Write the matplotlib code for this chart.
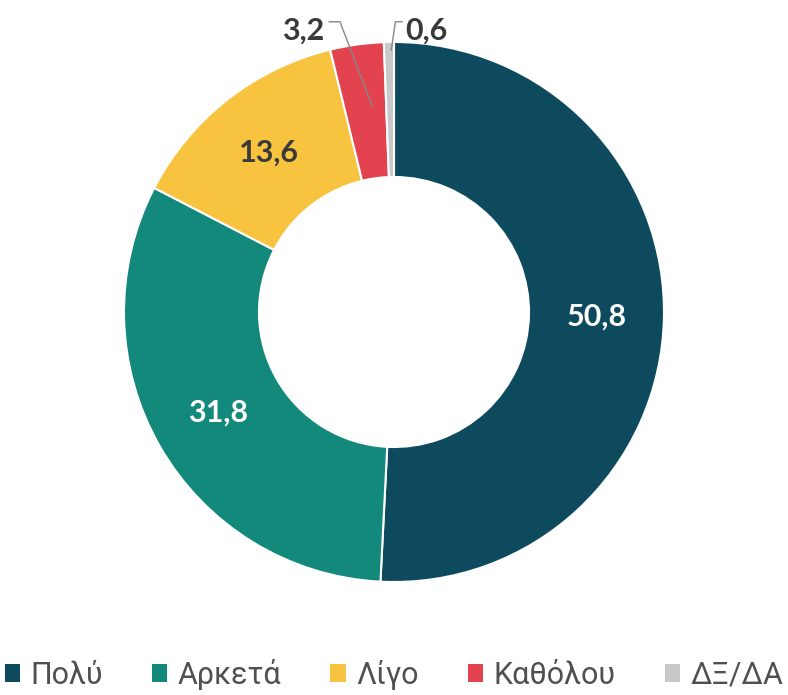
import matplotlib
matplotlib.use('Agg')
import numpy as np
from matplotlib import pyplot as plt
from matplotlib.patches import Patch

categories = ['Πολύ', 'Αρκετά', 'Λίγο', 'Καθόλου', 'ΔΞ/ΔΑ']
values = [50.8, 31.8, 13.6, 3.2, 0.6]
value_labels = ['50,8', '31,8', '13,6', '3,2', '0,6']
colors = ['#0e4a5e', '#12897a', '#f8c440', '#e2434f', '#c9c9cb']

fig = plt.figure(figsize=(7.88, 6.95), dpi=100)
ax = fig.add_axes([(394 - 270) / 788, (383 - 270) / 695, 540 / 788, 540 / 695])

wedges, _ = ax.pie(values, colors=colors, startangle=90, counterclock=False,
                   radius=1.0, wedgeprops=dict(width=0.5, edgecolor='white', linewidth=1.5))
ax.set_xlim(-1, 1)
ax.set_ylim(-1, 1)
ax.set_aspect('equal')
ax.axis('off')

# labels inside the big slices
label_font = ['Lato', 'DejaVu Sans']
inner = [(0, 'white'), (1, 'white'), (2, '#3a3a3a')]
for i, col in inner:
    w = wedges[i]
    ang = np.deg2rad((w.theta1 + w.theta2) / 2)
    ax.text(0.75 * np.cos(ang), 0.75 * np.sin(ang), value_labels[i], ha='center', va='center',
            fontsize=22, color=col, family=label_font, fontweight='bold')

# small slices with leader lines
ax.plot([-0.24, -0.2, -0.08], [1.075, 1.075, 0.76], color='#888888', lw=1, clip_on=False)
ax.text(-0.26, 1.044, value_labels[3], ha='right', va='center', fontsize=22,
        color='#3a3a3a', family=label_font, fontweight='bold')
ax.plot([0.03, 0.005, -0.01], [1.075, 1.075, 0.97], color='#888888', lw=1, clip_on=False)
ax.text(0.04, 1.044, value_labels[4], ha='left', va='center', fontsize=22,
        color='#3a3a3a', family=label_font, fontweight='bold')

handles = [Patch(facecolor=c, edgecolor='none') for c in colors]
fig.legend(handles, categories, loc='center', bbox_to_anchor=(0.5, 0.03), ncol=5,
           frameon=False, handlelength=0.5, handleheight=0.5, handletextpad=0.35,
           columnspacing=1.6, prop=dict(family=['Roboto', 'DejaVu Sans'], size=22),
           labelcolor='#505050')

fig.savefig('out.png', dpi=100)
